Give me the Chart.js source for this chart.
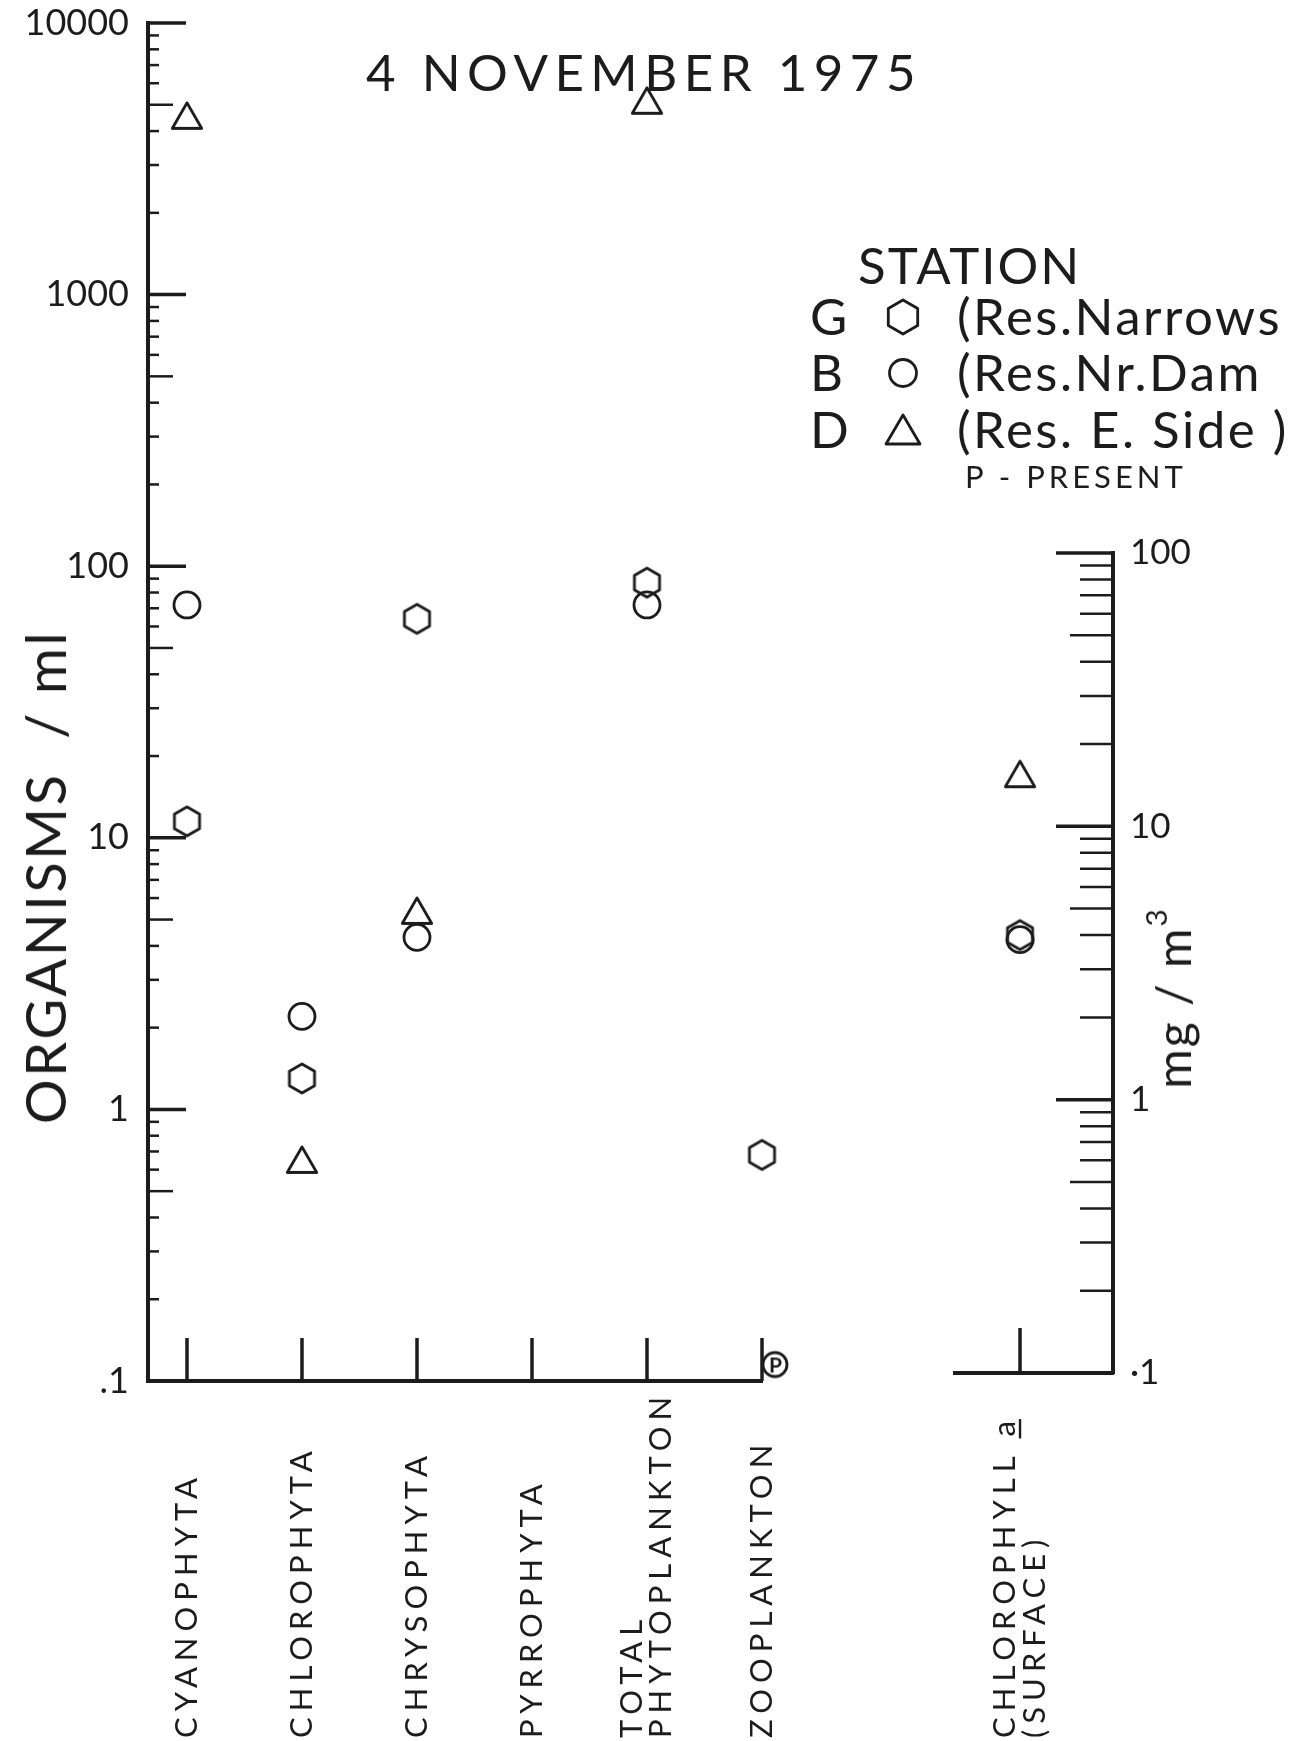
<!DOCTYPE html>
<html lang="en">
<head>
  <meta charset="UTF-8">
  <title>Plankton - 4 November 1975</title>
  <script src="https://cdn.jsdelivr.net/npm/chart.js"></script>
  <style>
    body {
      margin: 0;
      background: #fff;
      color: #1c1c1c;
      font-family: Lato, 'DejaVu Sans', sans-serif;
      overflow: hidden;
    }
    #page { position: relative; width: 1306px; height: 1741px; }
    canvas { position: absolute; top: 0; }
    #countChart { left: 0; }
    #chlChart { left: 900px; }
    .txt { position: absolute; white-space: nowrap; line-height: 1; font-weight: 400; }
    .rot { transform: translate(-50%, -50%) rotate(-90deg); }
    .title { left: 366px; top: 46px; font-size: 51px; letter-spacing: 6.5px; }
    .yTitle { left: 45px; top: 877px; font-size: 56px; letter-spacing: 2.5px; }
    .y2Title { left: 1173px; top: 998px; font-size: 48px; letter-spacing: 2px; }
    .sup { position: relative; top: -0.8em; font-size: 0.62em; }
    .station { left: 858px; top: 239px; font-size: 51px; letter-spacing: 2px; }
    .code { left: 810px; font-size: 51px; }
    .name { left: 957px; font-size: 51px; letter-spacing: 2.5px; }
    .present { left: 965px; top: 461px; font-size: 31px; letter-spacing: 4px; }
    .sym { position: absolute; left: 883px; width: 40px; height: 40px; }
  </style>
</head>
<body>
<div id="page">
  <canvas id="countChart" width="900" height="1741"></canvas>
  <canvas id="chlChart" width="406" height="1741"></canvas>

  <div class="txt title">4 NOVEMBER 1975</div>
  <div class="txt rot yTitle">ORGANISMS &nbsp;/ ml</div>
  <div class="txt rot y2Title">mg / m<span class="sup">3</span></div>

  <!-- station key -->
  <div class="txt station">STATION</div>
  <div class="txt code" style="top:290px">G</div>
  <svg class="sym" style="top:297px" viewBox="0 0 40 40">
    <polygon points="20,3 34.7,11.5 34.7,28.5 20,37 5.3,28.5 5.3,11.5" fill="none" stroke="#1c1c1c" stroke-width="2.8" stroke-linejoin="round"/>
  </svg>
  <div class="txt name" style="top:290px">(Res.Narrows</div>
  <div class="txt code" style="top:346px">B</div>
  <svg class="sym" style="top:353px" viewBox="0 0 40 40">
    <circle cx="20" cy="20" r="13.5" fill="none" stroke="#1c1c1c" stroke-width="2.8"/>
  </svg>
  <div class="txt name" style="top:346px">(Res.Nr.Dam</div>
  <div class="txt code" style="top:403px">D</div>
  <svg class="sym" style="top:410px" viewBox="0 0 40 40">
    <polygon points="20,5 37,34 3,34" fill="none" stroke="#1c1c1c" stroke-width="2.8" stroke-linejoin="round"/>
  </svg>
  <div class="txt name" style="top:403px">(Res. E. Side )</div>
  <div class="txt present">P - PRESENT</div>
</div>

<script>
  // organisms / ml by group (null = not plotted)
  const categories = ['CYANOPHYTA', 'CHLOROPHYTA', 'CHRYSOPHYTA', 'PYRROPHYTA', 'TOTAL\nPHYTOPLANKTON', 'ZOOPLANKTON'];
  const stationG = [11.5, 1.3, 64, null, 87, 0.68];      // Res. Narrows
  const stationB = [72, 2.2, 4.3, null, 72, null];       // Res. Nr. Dam
  const stationD = [4400, 0.63, 5.2, null, 5000, null];  // Res. E. Side
  const presentOnly = [null, null, null, null, null, 0.115];
  const countTicks = [0.1, 1, 10, 100, 1000, 10000];
  const countTickLabels = ['.1', '1', '10', '100', '1000', '10000'];

  // chlorophyll a, mg / m3
  const chlCategories = ['CHLOROPHYLL a\n(SURFACE)'];
  const chlG = [4.0];
  const chlB = [3.85];
  const chlD = [15];
  const chlTicks = [0.1, 1, 10, 100];
  const chlTickLabels = ['\u00b71', '1', '10', '100'];

  const ink = '#1c1c1c';
  const fontFamily = 'Lato, "DejaVu Sans", sans-serif';
  const markLine = 2.8;

  function polygonImage(sides, r, lw) {
    const c = document.createElement('canvas');
    const size = Math.ceil(2 * r + 2 * lw);
    c.width = c.height = size;
    const g = c.getContext('2d');
    g.strokeStyle = ink;
    g.lineWidth = lw;
    g.lineJoin = 'round';
    g.beginPath();
    for (let k = 0; k < sides; k++) {
      const a = -Math.PI / 2 + k * 2 * Math.PI / sides;
      const px = size / 2 + r * Math.cos(a);
      const py = size / 2 + r * Math.sin(a);
      if (k) g.lineTo(px, py); else g.moveTo(px, py);
    }
    g.closePath();
    g.stroke();
    return c;
  }

  // circled P, drawn just right of the point
  function presentImage() {
    const c = document.createElement('canvas');
    c.width = 56; c.height = 32;
    const g = c.getContext('2d');
    g.strokeStyle = ink; g.fillStyle = ink; g.lineWidth = markLine;
    g.beginPath(); g.arc(41, 16, 12, 0, Math.PI * 2); g.stroke();
    g.font = '700 21px ' + fontFamily;
    g.textAlign = 'center'; g.textBaseline = 'middle';
    g.fillText('P', 41.5, 17);
    return c;
  }

  const hexagon = polygonImage(6, 14.5, markLine);
  const triangle = polygonImage(3, 17, markLine);

  const points = arr => arr.map((v, i) => ({ x: i, y: v })).filter(p => p.y !== null);

  function markerSet(label, arr, style, radius) {
    return {
      label, data: points(arr), pointStyle: style, pointRadius: radius,
      pointBorderColor: ink, pointBackgroundColor: 'rgba(0,0,0,0)', pointBorderWidth: markLine,
      showLine: false, clip: false
    };
  }

  // inward log ticks, upright category ticks and rotated category names
  const axisMarks = {
    id: 'axisMarks',
    afterDraw(chart, args, opts) {
      const { ctx } = chart;
      const xs = chart.scales.x, ys = chart.scales.y;
      const dir = ys.position === 'right' ? -1 : 1;
      const x0 = dir > 0 ? ys.right : ys.left;
      ctx.save();
      ctx.strokeStyle = ink;
      const lo = Math.round(Math.log10(ys.min)), hi = Math.round(Math.log10(ys.max));
      for (let e = lo; e <= hi; e++) {
        for (let m = 1; m <= 9; m++) {
          const v = m * Math.pow(10, e);
          if (v > ys.max * 1.0001) break;
          const py = ys.getPixelForValue(v);
          const len = m === 1 ? opts.major : (m === 5 ? opts.mid : opts.minor);
          ctx.lineWidth = m === 1 ? 3.5 : 2.5;
          ctx.beginPath();
          ctx.moveTo(x0, py);
          ctx.lineTo(x0 + dir * len, py);
          ctx.stroke();
        }
      }

      ctx.fillStyle = ink;
      ctx.font = '400 31px ' + fontFamily;
      ctx.letterSpacing = '6px';
      ctx.textAlign = 'left';
      ctx.textBaseline = 'middle';
      opts.names.forEach((name, i) => {
        const px = xs.getPixelForValue(i);
        ctx.lineWidth = 3.5;
        ctx.beginPath();
        ctx.moveTo(px, xs.top);
        ctx.lineTo(px, xs.top - opts.tickHeight);
        ctx.stroke();
        const lines = name.split('\n');
        lines.forEach((line, k) => {
          const off = (k - (lines.length - 1) / 2) * opts.lineGap;
          ctx.save();
          ctx.translate(px + off, opts.labelBase);
          ctx.rotate(-Math.PI / 2);
          ctx.fillText(line, 0, 0);
          if (line.endsWith(' a')) {
            const full = ctx.measureText(line).width - 6;
            const wa = ctx.measureText('a').width - 6;
            ctx.lineWidth = 2.4;
            ctx.beginPath();
            ctx.moveTo(full - wa - 2, 15);
            ctx.lineTo(full + 2, 15);
            ctx.stroke();
          }
          ctx.restore();
        });
      });
      ctx.restore();
    }
  };

  function tickFont(size) {
    return { family: fontFamily, size, weight: '400' };
  }

  // organisms per ml, log scale 0.1 - 10000
  new Chart(document.getElementById('countChart'), {
    type: 'scatter',
    data: {
      datasets: [
        markerSet('G', stationG, hexagon, 14),
        markerSet('B', stationB, 'circle', 13),
        markerSet('D', stationD, triangle, 17),
        markerSet('P', presentOnly, presentImage(), 12)
      ]
    },
    plugins: [axisMarks],
    options: {
      responsive: false,
      animation: false,
      layout: { padding: { left: 0, top: 23, right: 138, bottom: 0 } },
      plugins: {
        legend: { display: false },
        tooltip: { enabled: false },
        axisMarks: { major: 38, mid: 25, minor: 11, names: categories, tickHeight: 43, labelBase: 1738, lineGap: 29 }
      },
      scales: {
        x: {
          type: 'linear', min: -0.339, max: 5,
          grid: { display: false },
          ticks: { display: false },
          border: { width: 4, color: ink },
          afterFit: s => { s.height = 360; s.paddingLeft = 0; s.paddingRight = 0; }
        },
        y: {
          type: 'logarithmic', min: 0.1, max: 10000,
          grid: { display: false },
          border: { width: 4, color: ink },
          ticks: {
            color: ink, font: tickFont(36), padding: 11,
            callback: v => countTickLabels[countTicks.indexOf(v)]
          },
          afterBuildTicks: s => { s.ticks = countTicks.map(v => ({ value: v })); },
          afterFit: s => { s.width = 148; s.paddingTop = 0; s.paddingBottom = 0; }
        }
      }
    }
  });

  // chlorophyll a, mg per m3, log scale 0.1 - 100
  new Chart(document.getElementById('chlChart'), {
    type: 'scatter',
    data: {
      datasets: [
        markerSet('G', chlG, hexagon, 14),
        markerSet('B', chlB, 'circle', 13),
        markerSet('D', chlD, triangle, 17)
      ]
    },
    plugins: [axisMarks],
    options: {
      responsive: false,
      animation: false,
      layout: { padding: { left: 55, top: 553, right: 0, bottom: 0 } },
      plugins: {
        legend: { display: false },
        tooltip: { enabled: false },
        axisMarks: { major: 57, mid: 43, minor: 33, names: chlCategories, tickHeight: 45, labelBase: 1738, lineGap: 30 }
      },
      scales: {
        x: {
          type: 'linear', min: -0.57, max: 0.815,
          grid: { display: false },
          ticks: { display: false },
          border: { width: 4, color: ink },
          afterFit: s => { s.height = 368; s.paddingLeft = 0; s.paddingRight = 0; }
        },
        y: {
          type: 'logarithmic', position: 'right', min: 0.1, max: 100,
          grid: { display: false },
          border: { width: 4, color: ink },
          ticks: {
            color: ink, font: tickFont(35), padding: 9,
            callback: v => chlTickLabels[chlTicks.indexOf(v)]
          },
          afterBuildTicks: s => { s.ticks = chlTicks.map(v => ({ value: v })); },
          afterFit: s => { s.width = 193; s.paddingTop = 0; s.paddingBottom = 0; }
        }
      }
    }
  });
</script>
</body>
</html>
